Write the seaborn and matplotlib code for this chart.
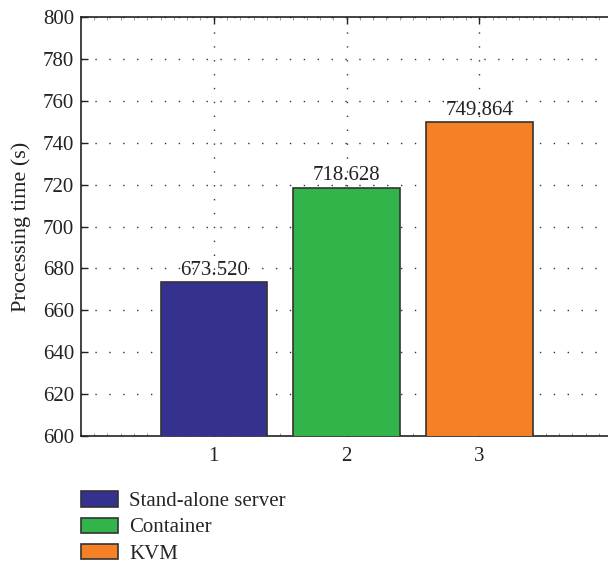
import matplotlib
matplotlib.use("Agg")
import matplotlib.pyplot as plt
import seaborn as sns
import pandas as pd
from matplotlib.ticker import MultipleLocator
from matplotlib.patches import Patch

positions = [1, 2, 3]
labels = ["Stand-alone server", "Container", "KVM"]
values = [673.520, 718.628, 749.864]
colors = ["#34318f", "#33b44b", "#f58025"]

sns.set_theme(style="white")
plt.rcParams["font.family"] = ["Liberation Serif", "DejaVu Serif"]

df = pd.DataFrame({"pos": positions, "method": labels, "time": values})

fig = plt.figure(figsize=(6.08, 5.65), dpi=100)
ax = fig.add_axes([0.133, 0.228, 0.874, 0.742])

sns.barplot(data=df, x="pos", y="time", hue="method", palette=colors,
            native_scale=True, dodge=False, width=0.8, saturation=1, ax=ax,
            edgecolor="#333333", linewidth=1.2, legend=False, zorder=3)

ax.set_xlim(0, 4)
ax.set_ylim(600, 800)
ax.set_xticks(positions)
ax.set_xticklabels([str(p) for p in positions])
ax.yaxis.set_major_locator(MultipleLocator(20))
ax.xaxis.set_minor_locator(MultipleLocator(0.1))

ax.grid(True, which="major", linestyle=(0, (1, 9)), color="#333333", linewidth=1.0, zorder=0)
ax.set_axisbelow(True)

for s in ax.spines.values():
    s.set_color("#222222")
    s.set_linewidth(1.2)
ax.spines["right"].set_visible(False)

ax.tick_params(axis="both", which="major", direction="in", length=5, width=1,
               labelsize=15, colors="#222222", top=True, bottom=True, left=True)
ax.tick_params(axis="x", which="minor", direction="in", length=2, width=0.6,
               top=True, bottom=True, colors="#888888")
ax.tick_params(axis="x", which="major", pad=8)
ax.tick_params(axis="y", which="major", pad=5)

ax.set_xlabel("")
ax.set_ylabel("Processing time (s)", fontsize=16, color="#222222", labelpad=8)

for p, v in zip(positions, values):
    ax.text(p, v + 1, f"{v:.3f}", ha="center", va="bottom", fontsize=15, color="#222222")

handles = [Patch(facecolor=c, edgecolor="#333333", linewidth=1.2) for c in colors]
fig.legend(handles, labels, loc="upper left", bbox_to_anchor=(0.12, 0.145),
           frameon=False, fontsize=15, handlelength=1.75, handleheight=0.75,
           labelspacing=0.3, handletextpad=0.55, borderaxespad=0)

fig.savefig("out.png", dpi=100)
